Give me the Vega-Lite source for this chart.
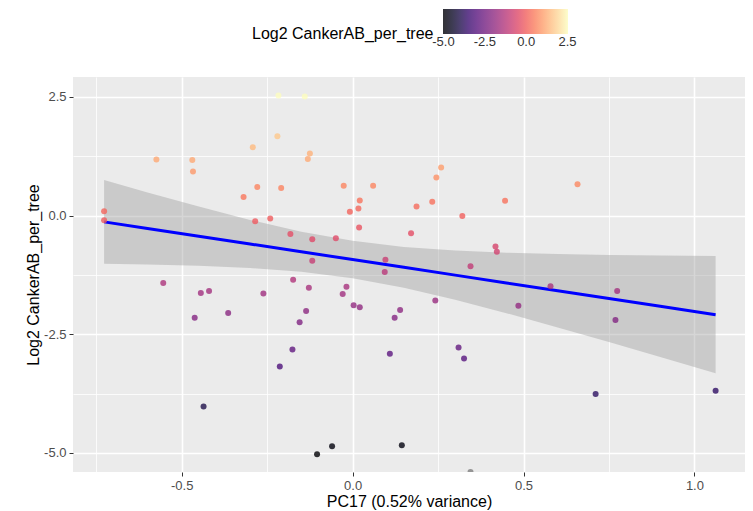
{
  "$schema": "https://vega.github.io/schema/vega-lite/v6.json",
  "width": 672,
  "height": 395,
  "autosize": {"type": "none"},
  "padding": {"left": 73, "top": 77, "right": 8, "bottom": 39},
  "background": "white",
  "config": {
    "font": "Liberation Sans",
    "view": {"fill": "#EBEBEB", "stroke": null},
    "axis": {
      "domain": false,
      "labelFontSize": 13,
      "labelColor": "#4D4D4D",
      "tickColor": "#333333",
      "tickSize": 4,
      "tickWidth": 1,
      "labelPadding": 3,
      "titleFontSize": 16,
      "titleFontWeight": "normal",
      "titleColor": "#000000",
      "gridColor": "#FFFFFF",
      "gridOpacity": 1
    }
  },
  "datasets": {
    "band": [
      {"x": -0.727, "lo": -1.013, "hi": 0.747, "fit": -0.133},
      {"x": -0.6, "lo": -1.029, "hi": 0.487, "fit": -0.271},
      {"x": -0.45, "lo": -1.059, "hi": 0.189, "fit": -0.435},
      {"x": -0.3, "lo": -1.106, "hi": -0.092, "fit": -0.599},
      {"x": -0.15, "lo": -1.186, "hi": -0.340, "fit": -0.763},
      {"x": 0.0, "lo": -1.321, "hi": -0.533, "fit": -0.927},
      {"x": 0.15, "lo": -1.521, "hi": -0.661, "fit": -1.091},
      {"x": 0.3, "lo": -1.773, "hi": -0.737, "fit": -1.255},
      {"x": 0.45, "lo": -2.056, "hi": -0.782, "fit": -1.419},
      {"x": 0.6, "lo": -2.356, "hi": -0.810, "fit": -1.583},
      {"x": 0.75, "lo": -2.665, "hi": -0.829, "fit": -1.747},
      {"x": 0.9, "lo": -2.980, "hi": -0.842, "fit": -1.911},
      {"x": 1.062, "lo": -3.323, "hi": -0.853, "fit": -2.088}
    ],
    "points": [
      {"PC17": -0.217, "log2": 2.53},
      {"PC17": -0.140, "log2": 2.51},
      {"PC17": -0.220, "log2": 1.67},
      {"PC17": -0.292, "log2": 1.44},
      {"PC17": -0.574, "log2": 1.18},
      {"PC17": -0.469, "log2": 1.17},
      {"PC17": -0.467, "log2": 0.93},
      {"PC17": -0.125, "log2": 1.31},
      {"PC17": -0.131, "log2": 1.19},
      {"PC17": -0.279, "log2": 0.60},
      {"PC17": -0.209, "log2": 0.58},
      {"PC17": -0.319, "log2": 0.39},
      {"PC17": -0.026, "log2": 0.63},
      {"PC17": 0.060, "log2": 0.63},
      {"PC17": -0.727, "log2": 0.09},
      {"PC17": -0.727, "log2": -0.10},
      {"PC17": -0.285, "log2": -0.12},
      {"PC17": -0.241, "log2": -0.06},
      {"PC17": 0.021, "log2": 0.32},
      {"PC17": 0.017, "log2": 0.15},
      {"PC17": -0.008, "log2": 0.08},
      {"PC17": 0.019, "log2": -0.25},
      {"PC17": -0.182, "log2": -0.39},
      {"PC17": -0.118, "log2": -0.50},
      {"PC17": -0.049, "log2": -0.48},
      {"PC17": -0.118, "log2": -0.95},
      {"PC17": 0.259, "log2": 1.01},
      {"PC17": 0.245, "log2": 0.80},
      {"PC17": 0.658, "log2": 0.66},
      {"PC17": 0.187, "log2": 0.19},
      {"PC17": 0.233, "log2": 0.29},
      {"PC17": 0.446, "log2": 0.31},
      {"PC17": 0.321, "log2": -0.01},
      {"PC17": 0.171, "log2": -0.37},
      {"PC17": 0.418, "log2": -0.65},
      {"PC17": 0.422, "log2": -0.76},
      {"PC17": 0.096, "log2": -0.93},
      {"PC17": 0.094, "log2": -1.19},
      {"PC17": 0.345, "log2": -1.07},
      {"PC17": -0.554, "log2": -1.42},
      {"PC17": -0.444, "log2": -1.63},
      {"PC17": -0.420, "log2": -1.59},
      {"PC17": -0.261, "log2": -1.64},
      {"PC17": -0.174, "log2": -1.35},
      {"PC17": -0.128, "log2": -1.52},
      {"PC17": -0.018, "log2": -1.50},
      {"PC17": -0.029, "log2": -1.65},
      {"PC17": 0.003, "log2": -1.89},
      {"PC17": 0.021, "log2": -1.93},
      {"PC17": -0.462, "log2": -2.15},
      {"PC17": -0.364, "log2": -2.05},
      {"PC17": -0.136, "log2": -2.01},
      {"PC17": -0.155, "log2": -2.25},
      {"PC17": -0.176, "log2": -2.82},
      {"PC17": -0.213, "log2": -3.18},
      {"PC17": -0.436, "log2": -4.02},
      {"PC17": -0.060, "log2": -4.86},
      {"PC17": -0.104, "log2": -5.03},
      {"PC17": 0.242, "log2": -1.79},
      {"PC17": 0.139, "log2": -1.99},
      {"PC17": 0.123, "log2": -2.15},
      {"PC17": 0.109, "log2": -2.91},
      {"PC17": 0.310, "log2": -2.78},
      {"PC17": 0.326, "log2": -3.01},
      {"PC17": 0.485, "log2": -1.90},
      {"PC17": 0.579, "log2": -1.49},
      {"PC17": 0.774, "log2": -1.59},
      {"PC17": 0.769, "log2": -2.20},
      {"PC17": 0.711, "log2": -3.76},
      {"PC17": 1.062, "log2": -3.69},
      {"PC17": 0.144, "log2": -4.84},
      {"PC17": 0.345, "log2": -5.40}
    ]
  },
  "layer": [
    {
      "data": {"name": "band"},
      "mark": {"type": "area", "color": "#999999", "opacity": 0.4},
      "encoding": {
        "x": {
          "field": "x", "type": "quantitative",
          "scale": {"domain": [-0.818, 1.148], "nice": false, "zero": false},
          "axis": {"values": [-0.75, -0.25, 0.25, 0.75], "grid": true, "gridWidth": 0.8, "labels": false, "ticks": false, "title": null, "orient": "bottom"}
        },
        "y": {
          "field": "lo", "type": "quantitative",
          "scale": {"domain": [-5.402, 2.919], "nice": false, "zero": false},
          "axis": {"values": [-3.75, -1.25, 1.25], "grid": true, "gridWidth": 0.8, "labels": false, "ticks": false, "title": null, "orient": "left"}
        },
        "y2": {"field": "hi"}
      }
    },
    {
      "data": {"name": "band"},
      "mark": {"type": "line", "color": "#0000FF", "strokeWidth": 3},
      "encoding": {
        "x": {"field": "x", "type": "quantitative", "axis": null},
        "y": {"field": "fit", "type": "quantitative", "axis": null}
      }
    },
    {
      "data": {"name": "points"},
      "mark": {"type": "circle", "size": 36, "opacity": 0.8, "clip": true},
      "encoding": {
        "x": {
          "field": "PC17", "type": "quantitative",
          "axis": {"values": [-0.5, 0, 0.5, 1.0], "labelExpr": "(datum.value < 0 ? '-' : '') + format(abs(datum.value), '.1f')", "grid": true, "gridWidth": 1.6, "title": "PC17 (0.52% variance)", "titlePadding": 1, "orient": "bottom"}
        },
        "y": {
          "field": "log2", "type": "quantitative",
          "axis": {"values": [-5, -2.5, 0, 2.5], "labelExpr": "(datum.value < 0 ? '-' : '') + format(abs(datum.value), '.1f')", "grid": true, "gridWidth": 1.6, "title": "Log2 CankerAB_per_tree", "titlePadding": 2, "orient": "left"}
        },
        "color": {
          "field": "log2", "type": "quantitative",
          "condition": {"test": "datum.log2 < -5.2", "value": "#7F7F7F"},
          "scale": {"scheme": "magma", "domain": [-5.03, 2.53]},
          "legend": {
            "title": "Log2 CankerAB_per_tree",
            "orient": "none",
            "legendX": 179,
            "legendY": -68,
            "direction": "horizontal",
            "gradientLength": 125,
            "gradientThickness": 25,
            "gradientStrokeWidth": 0,
            "titleOrient": "left",
            "titleAnchor": "end",
            "titleBaseline": "middle",
            "titleLimit": 400,
            "titleFontSize": 16,
            "titleFontWeight": "normal",
            "titleColor": "#000000",
            "titlePadding": 9,
            "labelFontSize": 13,
            "labelColor": "#333333",
            "labelOverlap": false,
            "values": [-5, -2.5, 0, 2.5],
            "labelExpr": "(datum.value < 0 ? '-' : '') + format(abs(datum.value), '.1f')"
          }
        }
      }
    }
  ],
  "resolve": {"axis": {"x": "independent", "y": "independent"}}
}
